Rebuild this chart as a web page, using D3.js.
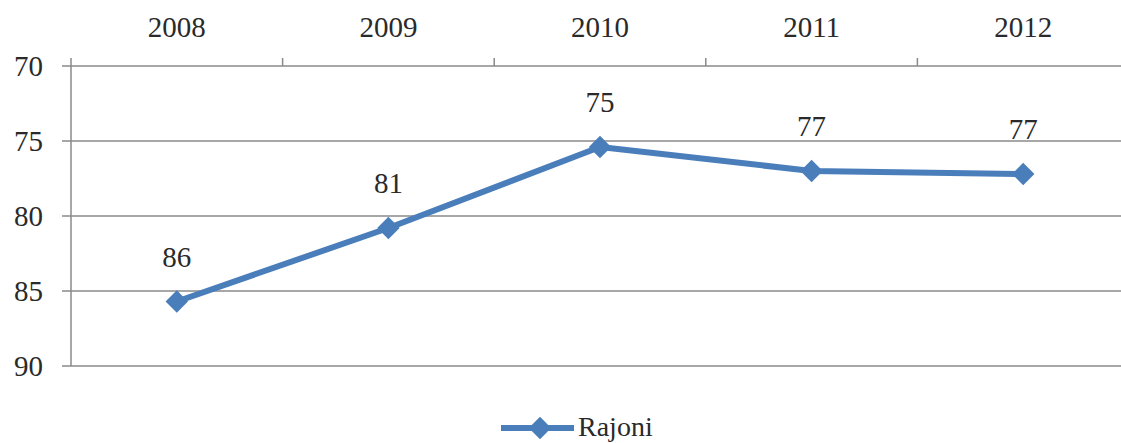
<!DOCTYPE html>
<html><head><meta charset="utf-8">
<script src="https://cdn.jsdelivr.net/npm/d3@7"></script>
<style>body{margin:0;background:#fff}svg{display:block}</style>
</head><body><svg id="c" width="1121" height="443"></svg>
<script>
const years = ["2008","2009","2010","2011","2012"];
const values = [85.7, 80.8, 75.4, 77.0, 77.2];
const labels = ["86","81","75","77","77"];
const yTicks = [70,75,80,85,90];
const seriesName = "Rajoni";

const svg = d3.select("#c");
const x = d3.scaleBand().domain(years).range([71,1129]);
const y = d3.scaleLinear().domain([70,90]).range([66,366]);
const grid = "#8a8a8a", blue = "#4a7ebb", ink = "#2a2a2a";
const FF = "'Times New Roman', Tinos, 'Liberation Serif', 'DejaVu Serif', serif";

svg.append("g").selectAll("line").data(yTicks).join("line")
  .attr("x1",62).attr("x2",1129).attr("y1",d=>y(d)).attr("y2",d=>y(d))
  .attr("stroke",grid).attr("stroke-width",1.5);
svg.append("line").attr("x1",71).attr("x2",71).attr("y1",58).attr("y2",366)
  .attr("stroke",grid).attr("stroke-width",1.5);
const bounds = years.slice(1).map(d=>x(d));
svg.append("g").selectAll("line").data(bounds).join("line")
  .attr("x1",d=>d).attr("x2",d=>d).attr("y1",58).attr("y2",66)
  .attr("stroke",grid).attr("stroke-width",1.5);
svg.append("g").selectAll("text").data(yTicks).join("text")
  .attr("x",43).attr("y",d=>y(d)+10).attr("text-anchor","end")
  .style("font-family",FF).attr("fill",ink).attr("font-size",29).text(d=>d);
svg.append("g").selectAll("text").data(years).join("text")
  .attr("x",d=>x(d)+x.bandwidth()/2).attr("y",37).attr("text-anchor","middle")
  .style("font-family",FF).attr("fill",ink).attr("font-size",29).text(d=>d);

const cx = d=>x(d)+x.bandwidth()/2;
const line = d3.line().x((d,i)=>cx(years[i])).y(d=>y(d));
svg.append("path").datum(values).attr("d",line).attr("fill","none")
  .attr("stroke",blue).attr("stroke-width",6).attr("stroke-linejoin","round");
const diamond = d3.symbol().type(d3.symbolDiamond2).size(320);
svg.append("g").selectAll("path").data(values).join("path")
  .attr("d",diamond).attr("transform",(d,i)=>`translate(${cx(years[i])},${y(d)})`)
  .attr("fill",blue);
svg.append("g").selectAll("text").data(values).join("text")
  .attr("x",(d,i)=>cx(years[i])).attr("y",d=>y(d)-35).attr("text-anchor","middle")
  .style("font-family",FF).attr("fill",ink).attr("font-size",29).text((d,i)=>labels[i]);

const lg = svg.append("g");
lg.append("line").attr("x1",501).attr("x2",574).attr("y1",428).attr("y2",428)
  .attr("stroke",blue).attr("stroke-width",6);
lg.append("path").attr("d",diamond).attr("transform","translate(540,428)").attr("fill",blue);
lg.append("text").attr("x",578).attr("y",436).style("font-family",FF).attr("fill",ink)
  .attr("font-size",28).text(seriesName);
</script></body></html>
